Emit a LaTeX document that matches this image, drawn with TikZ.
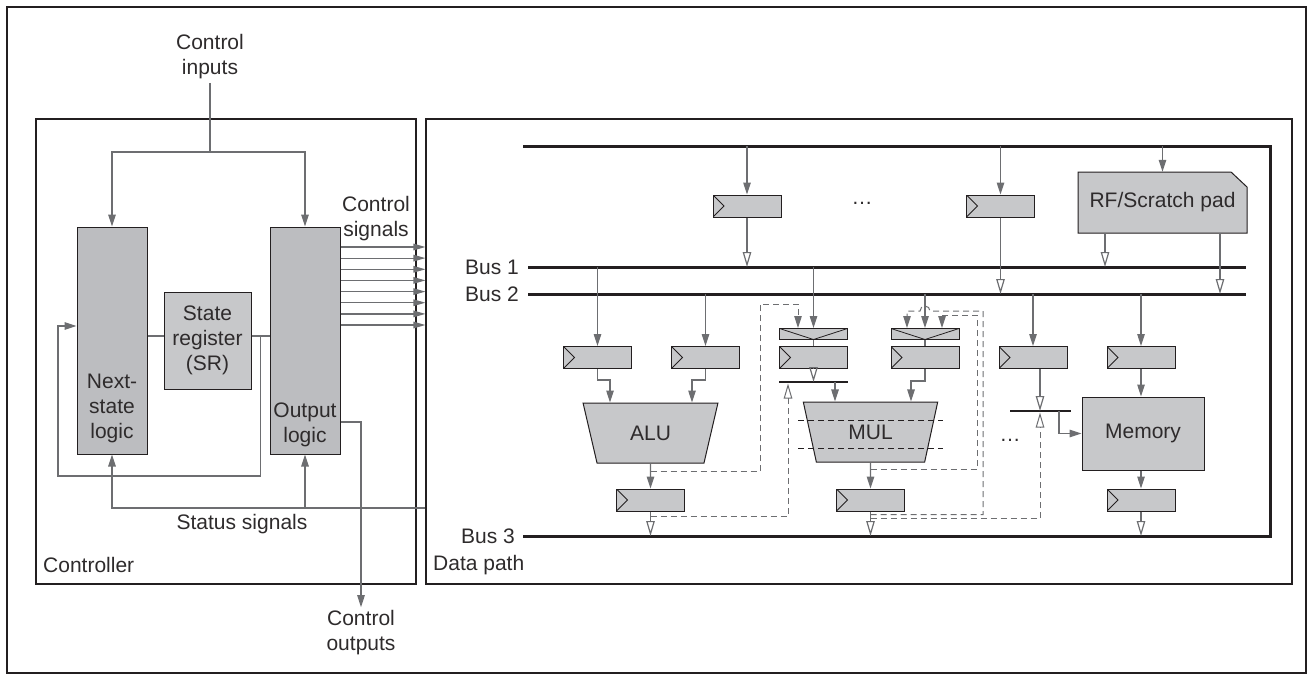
\documentclass[tikz,border=0pt]{standalone}
\usepackage{fontspec}
\setmainfont{Liberation Sans}
\usetikzlibrary{arrows.meta}
\usetikzlibrary{shapes.geometric}

\definecolor{wgray}{HTML}{6D6E71}
\definecolor{bline}{HTML}{231F20}
\definecolor{bfill}{HTML}{C7C8CA}
\definecolor{lfill}{HTML}{BCBDC0}
\definecolor{tcol}{HTML}{2E2B2C}

\begin{document}
\begin{tikzpicture}[x=1pt, y=-1pt,
  every node/.style={font=\fontsize{21}{25}\selectfont, text=tcol},
  wire/.style={draw=wgray, line width=1.2pt},
  arr/.style={wire, -{Triangle[length=12pt, width=7.5pt]}},
  sarr/.style={wire, -{Triangle[length=12pt, width=6.5pt]}},
  oarr/.style={wire, -{Triangle[open, length=15pt, width=8.5pt]}},
  dsh/.style={wire, line width=1pt, dash pattern=on 6pt off 4pt},
  darr/.style={dsh, -{Triangle[length=12pt, width=7.5pt]}},
  doarr/.style={dsh, -{Triangle[open, length=15pt, width=8.5pt]}},
  bus/.style={draw=bline, line width=3pt},
  bar/.style={draw=bline, line width=2.5pt},
  frame/.style={draw=bline, line width=1.1pt, inner sep=0pt},
  lbl/.style={inner sep=0pt},
  blk/.style={draw=bline, fill=bfill, line width=1pt, inner sep=0pt},
  logic/.style={blk, fill=lfill, minimum width=70pt, minimum height=227pt},
  reg/.style={blk, minimum width=68pt, minimum height=22pt,
    path picture={\draw[bline, line width=1pt] (path picture bounding box.north west)
      -- ([xshift=11pt]path picture bounding box.west) -- (path picture bounding box.south west);}},
  mux/.style={blk, minimum width=68pt, minimum height=11pt,
    path picture={\draw[bline, line width=0.8pt] (path picture bounding box.north west)
      -- (path picture bounding box.south) -- (path picture bounding box.north east);}},
  fu/.style={blk, trapezium, shape border rotate=180, trapezium angle=70,
    trapezium stretches=true, minimum width=135pt, minimum height=60pt}
]
\useasboundingbox (0,0) rectangle (1313,680);
\draw[frame] (7,7) rectangle (1306,673);
\node[frame, minimum width=380pt, minimum height=465pt] (ctrl) at (226,351.5) {};
\node[frame, minimum width=866pt, minimum height=465pt] (dp) at (859,351.5) {};
\node[lbl, anchor=west] (ctrltxt) at (43,565) {Controller};
\node[lbl, anchor=west] (dptxt) at (433,565) {Data path};

\node[logic] (ns) at (112,340.5) {};
\node[logic] (ol) at (305,340.5) {};
\node[blk, minimum width=87pt, minimum height=97pt, align=center] (sr) at (207.5,340.5) {State\\register\\(SR)};
\node[lbl, align=center] (nstxt) at (112,408) {Next-\\state\\logic};
\node[lbl, align=center] (oltxt) at (305,425) {Output\\logic};

\node[align=center] (cin) at (210,57) {Control\\inputs};
\draw[wire] (cin.south) -- (210,152) coordinate (cisplit);
\draw[arr] (cisplit) -| (ns.north);
\draw[arr] (cisplit) -| (ol.north);
\draw[wire] ([yshift=4.5pt]ns.east) -- ([yshift=4.5pt]sr.west);
\draw[wire] ([yshift=4.5pt]sr.east) -- ([yshift=4.5pt]ol.west);
\draw[arr] ([yshift=4.5pt]sr.east) -- ++(9,0) |- (58,476) |- ([yshift=14.5pt]ns.west);

\coordinate (st) at (dp.west |- 0,508);
\draw[arr] (st) -| (ns.south);
\draw[arr] (ol.south |- st) -- (ol.south);
\node[lbl] (sttxt) at (242,524) {Status signals};

\node[align=center] (cout) at (361,633) {Control\\outputs};
\draw[arr] ([yshift=-81.5pt]ol.east) -| (cout.north);

\node[align=center] (csig) at (376,219) {Control\\signals};
\foreach \y in {247,258.1,269.3,280.4,291.6,302.7,313.9,325}
  \draw[sarr] (ol.east |- 0,\y) -- (dp.west |- 0,\y);

\coordinate (bt) at (523,146);
\coordinate (b1) at (528,267);
\coordinate (b2) at (528,294);
\coordinate (b3) at (523,536);
\draw[bus] (bt) -- (1270,146) -- (1270,536) -- (b3);
\draw[bus] (b1) -- (1246,267);
\draw[bus] (b2) -- (1246,294);
\node[lbl, anchor=east] (b1txt) at (519,267) {Bus 1};
\node[lbl, anchor=east] (b2txt) at (519,294) {Bus 2};
\node[lbl, anchor=east] (b3txt) at (515,536) {Bus 3};

\node[reg] (rt1) at (747,206) {};
\node[reg] (rt2) at (1000.5,206) {};
\node (dots1) at (862,203) {…};
\filldraw[draw=bline, fill=bfill, line width=1pt] (1078,172) -- (1231,172) -- (1247,187) -- (1247,233) -- (1078,233) -- cycle;
\node[minimum width=169pt, minimum height=61pt, inner sep=0pt] (rf) at (1162.5,202.5) {RF/Scratch pad};
\draw[arr] (rt1.north |- bt) -- (rt1.north);
\draw[oarr] (rt1.south) -- (rt1.south |- b1);
\draw[arr] (rt2.north |- bt) -- (rt2.north);
\draw[oarr] (rt2.south) -- (rt2.south |- b2);
\draw[arr] (rf.north |- bt) -- (rf.north);
\draw[oarr] ([xshift=-57.5pt]rf.south) -- ([xshift=-57.5pt]rf.south |- b1);
\draw[oarr] ([xshift=57.5pt]rf.south) -- ([xshift=57.5pt]rf.south |- b2);

\foreach \n/\x in {ra/597.5, rb/705.5, rm1/813.5, rm2/925, rd/1033, rmi/1141}
  \node[reg] (\n) at (\x,357.5) {};
\node[mux] (m1) at (813.5,334) {};
\node[mux] (m2) at (925,334) {};
\node[blk, minimum width=122pt, minimum height=73pt] (mem) at (1143,433.5) {Memory};
\node[fu] (alu) at (650.5,433) {ALU};
\node[fu] (mul) at (870.5,432) {MUL};
\foreach \n/\x in {ralu/650.5, rmul/870.5, rmo/1141}
  \node[reg] (\n) at (\x,500) {};
\node (dots2) at (1010,440) {…};

\draw[arr] (ra.north |- b1) -- (ra.north);
\draw[arr] (rb.north |- b2) -- (rb.north);
\draw[arr] (m1.north |- b1) -- (m1.north);
\draw[wire] (m1.south) -- (rm1.north);
\draw[arr] (m2.north |- b2) -- (m2.north);
\draw[wire] (m2.south) -- (rm2.north);
\draw[arr] (rd.north |- b2) -- (rd.north);
\draw[arr] (rmi.north |- b2) -- (rmi.north);

\coordinate (bar1w) at (779,382);
\coordinate (bar1e) at (848,382);
\coordinate (bar2w) at (1010,411);
\coordinate (bar2e) at (1071,411);
\draw[bar] (bar1w) -- (bar1e);
\draw[bar] (bar2w) -- (bar2e);

\draw[oarr] (rm1.south) -- (rm1.south |- bar1w);
\draw[arr] ([xshift=-35.5pt]mul.north |- bar1w) -- ([xshift=-35.5pt]mul.north);
\draw[arr] (rm2.south) -- ++(0,12) -| ([xshift=40.5pt]mul.north);
\draw[oarr] ([xshift=7pt]rd.south) -- ([xshift=7pt]rd.south |- bar2w);
\draw[arr] ([xshift=-12pt]bar2e) |- (mem.west);
\draw[arr] (rmi.south) -- (rmi.south |- mem.north);
\draw[arr] (mem.south -| rmo.north) -- (rmo.north);
\draw[oarr] (rmo.south) -- (rmo.south |- b3);

\draw[arr] (ra.south) -- ++(0,11) -| ([xshift=-40.5pt]alu.north);
\draw[arr] (rb.south) -- ++(0,11) -| ([xshift=41.5pt]alu.north);
\draw[arr] (alu.south) -- (ralu.north);
\draw[oarr] (ralu.south) -- (ralu.south |- b3);
\draw[arr] (mul.south) -- (rmul.north);
\draw[oarr] (rmul.south) -- (rmul.south |- b3);

\draw[draw=bline, line width=1pt, dash pattern=on 6pt off 4pt] (mul.center) ++(-72.5,-12) -- ++(145,0);
\draw[draw=bline, line width=1pt, dash pattern=on 6pt off 4pt] (mul.center) ++(-72.5,16) -- ++(145,0);

\draw[darr] (alu.south) ++(0,8) -| (760,304) -| ([xshift=-15.5pt]m1.north);
\draw[doarr] (ralu.south) ++(0,5) -| (788,383.5);
\draw[darr] (mul.south) ++(0,7) -| (977,315) -| ([xshift=17pt]m2.north);
\draw[darr] (rmul.south) ++(0,3) -| (983,311) -- (930,311) arc[start angle=0, end angle=180, radius=5pt] -| ([xshift=-18pt]m2.north);
\draw[doarr] (rmul.south) ++(0,7) -| (1040,412.5);
\end{tikzpicture}
\end{document}
